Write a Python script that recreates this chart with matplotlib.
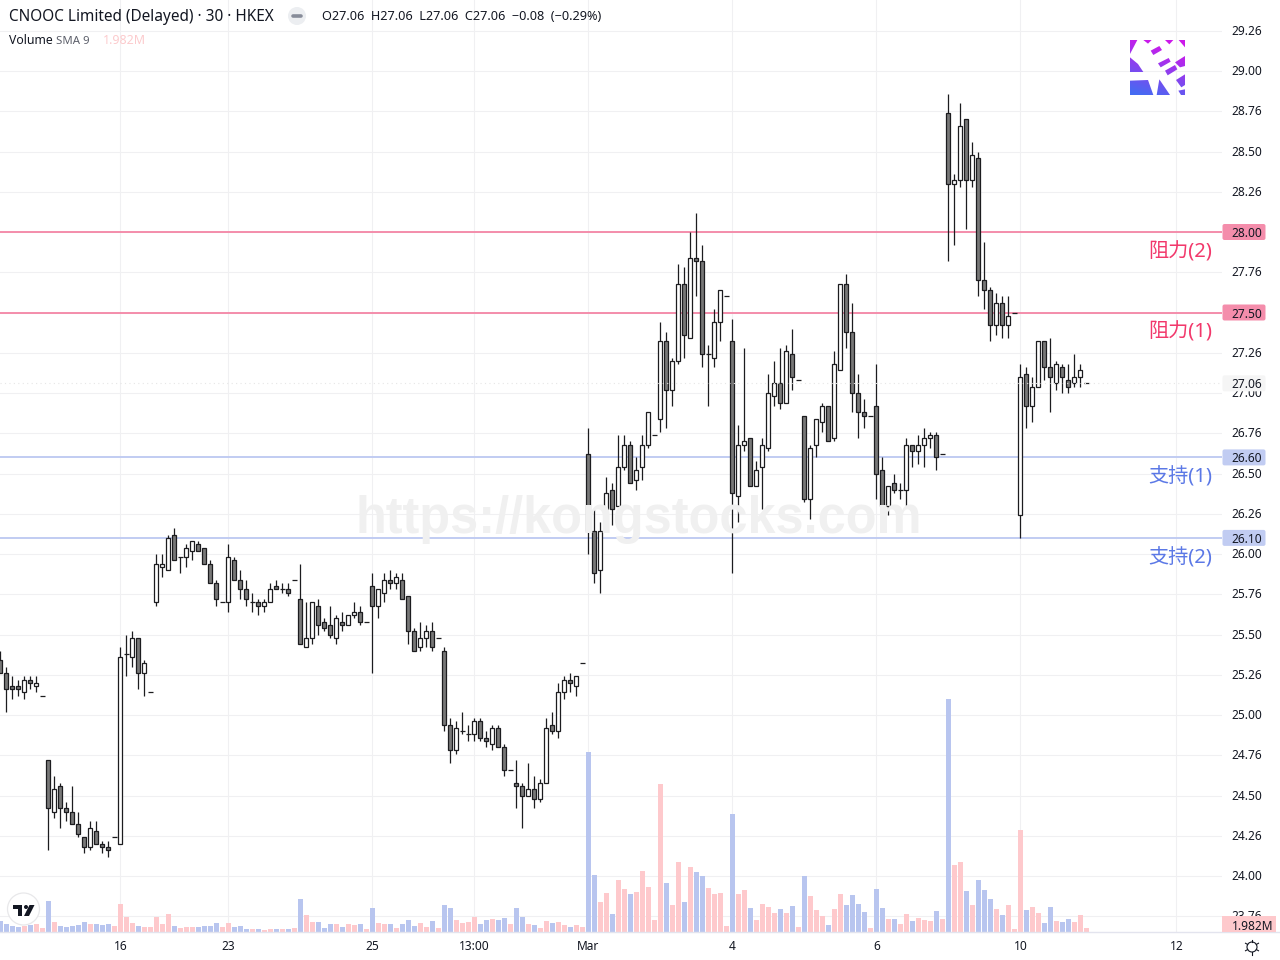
import numpy as np
import matplotlib
matplotlib.use("Agg")
import matplotlib.pyplot as plt
from matplotlib.patches import Rectangle, Circle, Polygon, FancyBboxPatch, PathPatch
from matplotlib.path import Path
from matplotlib.transforms import ScaledTranslation

# ---------- data ----------
opens = [25.34,25.26,25.18,25.18,25.14,25.22,25.18,25.12,24.72,24.40,
 24.56,24.42,24.40,24.32,24.24,24.18,24.28,24.20,24.18,24.24,
 24.20,25.38,25.36,25.48,25.26,25.14,25.70,25.92,25.90,26.12,
 25.98,25.98,26.02,26.06,26.04,25.94,25.82,25.70,25.70,25.96,
 25.84,25.78,25.70,25.70,25.68,25.70,25.80,25.78,25.78,25.84,
 25.72,25.42,25.48,25.68,25.58,25.56,25.48,25.58,25.56,25.62,
 25.64,25.58,25.80,25.68,25.76,25.84,25.82,25.84,25.74,25.52,
 25.42,25.48,25.52,25.48,25.40,24.94,24.78,24.90,24.88,24.88,
 24.96,24.86,24.82,24.92,24.80,24.66,24.58,24.56,24.50,24.54,
 24.48,24.58,24.94,24.90,25.14,25.22,25.18,25.32,26.62,26.14,
 25.90,26.28,26.40,26.30,26.54,26.68,26.46,26.54,26.68,26.74,
 26.84,27.32,27.02,27.20,27.68,27.34,27.84,27.82,27.24,27.22,
 27.44,27.60,27.32,26.36,26.68,26.72,26.42,26.54,26.66,26.98,
 27.06,26.94,27.24,27.08,26.86,26.34,26.68,26.82,26.92,26.72,
 27.14,27.68,27.38,27.00,26.88,26.86,26.92,26.52,26.30,26.44,
 26.40,26.40,26.68,26.64,26.68,26.72,26.74,26.62,28.74,28.30,
 28.32,28.70,28.32,28.46,27.70,27.64,27.42,27.56,27.42,27.50,
 26.24,27.12,26.92,27.04,27.32,27.16,27.06,27.16,27.08,27.06,
 27.10,27.06]
highs = [25.40,25.30,25.24,25.22,25.24,25.24,25.24,25.12,24.72,24.62,
 24.58,24.46,24.56,24.40,24.24,24.34,24.34,24.22,24.22,24.24,
 25.42,25.50,25.52,25.48,25.34,25.14,26.00,26.00,26.12,26.16,
 25.98,26.06,26.08,26.08,26.04,25.96,25.84,25.70,26.06,25.98,
 25.90,25.84,25.76,25.72,25.72,25.82,25.84,25.82,25.82,25.84,
 25.94,25.70,25.70,25.72,25.60,25.68,25.62,25.64,25.62,25.70,
 25.68,25.58,25.88,25.78,25.88,25.90,25.88,25.88,25.74,25.54,
 25.58,25.56,25.58,25.48,25.42,24.98,24.96,25.02,24.94,24.98,
 24.98,24.90,24.94,24.94,24.82,24.66,24.72,24.58,24.70,24.62,
 24.60,24.98,25.02,25.20,25.24,25.26,25.24,25.32,26.78,26.28,
 26.20,26.48,26.44,26.74,26.74,26.70,26.60,26.74,26.88,26.74,
 27.44,27.38,27.22,27.80,27.78,28.00,28.12,27.92,27.30,27.52,
 27.64,27.60,27.46,26.80,27.28,26.72,26.58,26.72,27.12,27.20,
 27.28,27.30,27.40,27.08,26.86,26.68,26.84,26.94,26.92,27.26,
 27.68,27.74,27.56,27.12,26.96,26.86,27.18,26.60,26.42,26.50,
 26.44,26.72,26.68,26.74,26.78,26.76,26.76,26.62,28.86,28.36,
 28.80,28.70,28.56,28.50,27.94,27.66,27.62,27.60,27.60,27.50,
 27.18,27.16,27.10,27.32,27.32,27.34,27.20,27.18,27.18,27.24,
 27.18,27.06]
lows = [25.26,25.02,25.10,25.12,25.10,25.16,25.14,25.12,24.16,24.36,
 24.30,24.34,24.32,24.24,24.14,24.16,24.20,24.14,24.12,24.24,
 24.20,25.24,25.30,25.16,25.12,25.14,25.68,25.86,25.90,25.96,
 25.88,25.92,25.96,26.02,25.94,25.82,25.68,25.70,25.64,25.84,
 25.72,25.68,25.64,25.62,25.64,25.70,25.78,25.76,25.74,25.84,
 25.44,25.42,25.44,25.50,25.52,25.48,25.44,25.52,25.56,25.60,
 25.56,25.58,25.26,25.60,25.70,25.78,25.78,25.72,25.44,25.40,
 25.40,25.42,25.40,25.48,24.90,24.70,24.76,24.88,24.84,24.84,
 24.84,24.80,24.78,24.80,24.62,24.66,24.42,24.30,24.50,24.42,
 24.46,24.58,24.88,24.86,25.10,25.14,25.12,25.32,26.00,25.82,
 25.76,26.14,26.18,26.30,26.52,26.44,26.40,26.46,26.66,26.74,
 26.76,26.78,26.92,27.18,27.22,27.34,27.60,27.16,26.92,27.16,
 27.32,27.60,25.88,26.20,26.64,26.42,26.42,26.28,26.64,26.92,
 26.90,26.94,27.02,27.08,26.32,26.22,26.60,26.76,26.70,26.70,
 27.14,27.28,26.88,26.72,26.78,26.86,26.34,26.26,26.24,26.38,
 26.34,26.30,26.54,26.56,26.54,26.66,26.52,26.62,27.82,27.92,
 28.28,28.02,28.28,27.60,27.52,27.32,27.36,27.34,27.34,27.50,
 26.10,26.78,26.82,27.04,27.08,26.88,27.02,27.00,27.00,27.04,
 27.04,27.06]
closes = [25.26,25.16,25.16,25.16,25.22,25.20,25.20,25.12,24.42,24.54,
 24.42,24.40,24.32,24.26,24.18,24.30,24.20,24.18,24.16,24.24,
 25.36,25.38,25.48,25.26,25.32,25.14,25.94,25.94,26.10,25.96,
 25.98,26.04,26.08,26.02,25.94,25.82,25.72,25.70,25.98,25.84,
 25.78,25.72,25.70,25.68,25.70,25.78,25.78,25.78,25.76,25.84,
 25.44,25.48,25.70,25.56,25.54,25.50,25.60,25.56,25.62,25.64,
 25.58,25.58,25.68,25.78,25.84,25.82,25.86,25.72,25.52,25.40,
 25.48,25.52,25.42,25.48,24.94,24.78,24.92,24.90,24.88,24.96,
 24.86,24.84,24.92,24.80,24.66,24.66,24.56,24.50,24.54,24.48,
 24.58,24.92,24.90,25.14,25.22,25.20,25.24,25.32,26.14,25.88,
 26.14,26.38,26.28,26.54,26.68,26.44,26.52,26.68,26.88,26.74,
 27.32,27.02,27.20,27.68,27.36,27.84,27.82,27.24,27.24,27.44,
 27.64,27.60,26.38,26.68,26.70,26.42,26.52,26.68,27.00,27.06,
 26.94,27.26,27.10,27.08,26.34,26.66,26.84,26.92,26.70,27.18,
 27.68,27.38,27.00,26.88,26.86,26.86,26.50,26.30,26.42,26.40,
 26.40,26.68,26.64,26.68,26.72,26.74,26.60,26.62,28.30,28.32,
 28.66,28.32,28.48,27.70,27.64,27.42,27.56,27.42,27.48,27.50,
 27.10,26.92,27.04,27.32,27.16,27.10,27.18,27.10,27.04,27.10,
 27.14,27.06]
volumes_m = [5.5,4,3,2.5,3,3.5,4,2,15.5,5,
 3,2.5,3,3.5,5,4,4,3.5,4,3,
 14,7.5,4.5,3,2.5,2.5,7.5,4,9,3,
 2,2.5,2.5,2.5,3,3,4.5,2.5,4.5,2.5,
 3,1.5,1.5,1.5,1,1.5,1.5,1.5,1.5,2,
 16.5,8.5,5,5,2,4,4,2.5,4,3.5,
 4,1.5,12,4.5,4,4,2,4,6,3,
 4.5,2.5,5.5,2,13.5,12,6,4.5,5,7.5,
 4,6,6.5,6,7,4,12,7.5,4,3.5,
 2,5.5,4.5,5,3.5,2.5,3.5,2.5,90,28.5,
 15,19.5,9,26,21.5,19,20,30.5,22.5,6,
 74,24.5,13.5,35,15,32.5,30,28,22,19,
 19.5,3,59,19,21,12,6,14,12.5,9.5,
 11.5,9.5,13,2.5,28,18,11,8,3.5,11.5,
 19,13.5,18.5,14,10,2,21.5,12,6.5,6.5,
 4,9,5.5,7,6,5.5,10.5,6.5,116.5,33.5,
 35,20.5,13.5,26,21,16.5,11.5,8.5,13.5,1.5,
 51,11,12.5,9.5,4.5,12.5,5.5,5,6.5,5,
 8.5,1.982]
assert len(opens) == len(highs) == len(lows) == len(closes) == len(volumes_m) == 182

resistance_levels = [28.00, 27.50]
resistance_labels = ["阻力(2)", "阻力(1)"]
support_levels = [26.60, 26.10]
support_labels = ["支持(1)", "支持(2)"]
last_price = 27.06

price_ticks = [29.25,29.0,28.75,28.5,28.25,28.0,27.75,27.5,27.25,27.0,26.75,26.5,
               26.25,26.0,25.75,25.5,25.25,25.0,24.75,24.5,24.25,24.0,23.75]
price_tick_labels = ["29.26","29.00","28.76","28.50","28.26","28.00","27.76","27.50","27.26",
                     "27.00","26.76","26.50","26.26","26.00","25.76","25.50","25.26","25.00",
                     "24.76","24.50","24.26","24.00","23.76"]
date_ticks = [20, 38, 62, 79, 98, 122, 146, 170, 196]
date_labels = ["16", "23", "25", "13:00", "Mar", "4", "6", "10", "12"]

# ---------- style ----------
FONT = "Noto Sans"
plt.rcParams["font.family"] = [FONT, "DejaVu Sans"]
CJK = ["Noto Sans CJK SC", "DejaVu Sans"]
INK = "#131722"; GRID = "#f0f0f2"
PINK_LINE = "#f48dab"; BLUE_LINE = "#c1ccf2"
PINK_TXT = "#f2386b"; BLUE_TXT = "#5b78e6"
W, H = 1280, 960
AX_R, AX_B = 1222, 932
PX_U = 161.0
Y_TOP = 28 + 232 / PX_U
Y_BOT = 28 - (AX_B - 232) / PX_U
SPACING = 6.0
XLIM = (-0.3 / SPACING, (AX_R - 0.3) / SPACING)
xs = np.arange(len(opens))
o, h, l, c = map(np.array, (opens, highs, lows, closes))
up = c >= o

fig = plt.figure(figsize=(W / 100, H / 100), dpi=100, facecolor="white")
rect = [0, 1 - AX_B / H, AX_R / W, AX_B / H]
ax_grid = fig.add_axes(rect, zorder=1)
ax_vol = fig.add_axes(rect, zorder=2)
ax = fig.add_axes(rect, zorder=3)
ov = fig.add_axes([0, 0, 1, 1], zorder=4)

# grid + axis labels
ax_grid.set_xlim(XLIM); ax_grid.set_ylim(Y_BOT, Y_TOP)
ax_grid.yaxis.tick_right()
ax_grid.set_yticks(price_ticks, price_tick_labels)
ax_grid.set_xticks(date_ticks, date_labels)
ax_grid.tick_params(length=0, labelsize=8.6, labelcolor=INK)
ax_grid.tick_params(axis="y", pad=6.6)
ax_grid.tick_params(axis="x", pad=6.0)
ax_grid.grid(True, color=GRID, lw=0.8)
for s in ax_grid.spines.values():
    s.set_visible(False)
up_shift = ScaledTranslation(0, 0.7 / 72, fig.dpi_scale_trans)
for lbl in ax_grid.get_yticklabels():
    lbl.set_transform(lbl.get_transform() + up_shift)

# volume
ax_vol.set_xlim(XLIM); ax_vol.set_ylim(0, AX_B / 2.0)
ax_vol.bar(xs, volumes_m, width=0.8, color=np.where(up, "#fec9cc", "#b8c5ef"), linewidth=0)
ax_vol.axis("off")

# candles
ax.set_xlim(XLIM); ax.set_ylim(Y_BOT, Y_TOP)
ax.axis("off")
for lv in resistance_levels:
    ax.axhline(lv, color=PINK_LINE, lw=1.4, zorder=1)
for lv in support_levels:
    ax.axhline(lv, color=BLUE_LINE, lw=1.4, zorder=1)
wicks = ax.vlines(xs, l, h, color="#1c1c1f", lw=0.9, zorder=2)
wicks.set_snap(True)
body = o != c
ax.bar(xs[body], np.abs(c - o)[body], bottom=np.minimum(o, c)[body], width=0.7,
       color=np.where(up[body], "white", "#787878"), edgecolor="#1c1c1f", linewidth=0.9, zorder=3)
dash = ax.hlines(o[~body], xs[~body] - 0.42, xs[~body] + 0.42, color="#1c1c1f", lw=0.9, zorder=3)
dash.set_snap(True)
ax.axhline(last_price, color="#e6e6e6", lw=0.8, ls=(0, (1, 3)), zorder=4)

# ---------- overlay in pixel coordinates ----------
ov.set_xlim(0, W); ov.set_ylim(H, 0); ov.axis("off"); ov.patch.set_alpha(0)

def py(price):
    return 232 + (28 - price) * PX_U

# bottom line
ov.plot([0, W], [AX_B, AX_B], color="#e3e4ee", lw=1.0)

# price boxes
def price_box(price, face, txt, x1=1266):
    yc = py(price)
    ov.add_patch(FancyBboxPatch((1223, yc - 7.5), x1 - 1224, 15, boxstyle="round,pad=0.5,rounding_size=2",
                                fc=face, ec="none", zorder=5))
    ov.text(1231.5, yc, txt, color=INK, fontsize=8.6, va="center_baseline", ha="left", zorder=6)

for lv in resistance_levels:
    price_box(lv, PINK_LINE, f"{lv:.2f}")
for lv in support_levels:
    price_box(lv, BLUE_LINE, f"{lv:.2f}")
price_box(last_price, "#f5f5f5", f"{last_price:.2f}")
ov.add_patch(Rectangle((1222, 916), 54, 16, fc="#fec9cc", ec="none", zorder=5))
ov.text(1231.5, 924.5, "1.982M", color=INK, fontsize=8.6, va="center_baseline", ha="left", zorder=6)

# level annotations
LABEL_FONT = [FONT, "Noto Sans CJK SC", "DejaVu Sans"]
for lv, t in zip(resistance_levels, resistance_labels):
    ov.text(1212, py(lv) + 20, t, color=PINK_TXT, fontsize=14.5, family=LABEL_FONT, ha="right", va="center")
for lv, t in zip(support_levels, support_labels):
    ov.text(1212, py(lv) + 20, t, color=BLUE_TXT, fontsize=14.5, family=LABEL_FONT, ha="right", va="center")

# watermark
ov.text(639, 519, "https://kongstocks.com", family="Liberation Sans", weight="bold",
        fontsize=36.4, color="#f0f0f0", ha="center", va="center", zorder=4.5)

# header
ov.text(9, 17, "CNOOC Limited (Delayed) · 30 · HKEX", fontsize=11.05, color=INK, va="center")
ov.add_patch(Circle((297, 16), 9, fc="#eceef1", ec="none"))
ov.plot([293, 301], [16, 16], color="#878c99", lw=2.6, solid_capstyle="round")
ov.text(322, 17, "O27.06  H27.06  L27.06  C27.06  −0.08  (−0.29%)", fontsize=9.15, color=INK, va="center")
ov.text(9, 41, "Volume", fontsize=8.8, color=INK, va="center")
ov.text(56, 41, "SMA 9", fontsize=8.2, color="#5d606b", va="center")
ov.text(103, 41, "1.982M", fontsize=9.0, color="#fccbcd", va="center")

# site logo: a gradient seen through the gaps of a white glyph
g = np.linspace(0, 1, 64)
gx, gy = np.meshgrid(g, g)
t = np.clip(gx * 0.30 + (1 - gy) * 0.95 - 0.05, 0, 1)
c_a = np.array([0.27, 0.42, 0.95]); c_b = np.array([0.80, 0.10, 0.92])
grad = c_a[None, None, :] * (1 - t[..., None]) + c_b[None, None, :] * t[..., None]
im = ov.imshow(grad, extent=(1130, 1185, 95, 40), aspect="auto", zorder=2, interpolation="bilinear")
ov.set_xlim(0, W); ov.set_ylim(H, 0)
gaps = [[(30, 30), (52, 30), (30, 72)], [(70, 30), (95, 30), (84, 41)], [(135, 30), (160, 30), (148, 43)],
        [(176, 30), (195, 30), (195, 52)], [(92, 62), (118, 48), (126, 60), (100, 75)],
        [(114, 100), (146, 84), (152, 95), (122, 112)], [(135, 122), (165, 105), (172, 118), (143, 136)],
        [(165, 97), (195, 78), (195, 108), (180, 112)], [(168, 150), (195, 133), (195, 165), (184, 172)],
        [(30, 82), (54, 102), (70, 126), (30, 126)], [(30, 152), (84, 150), (100, 195), (30, 195)],
        [(118, 148), (150, 195), (110, 195)], [(175, 182), (195, 178), (195, 195), (183, 195)]]
verts = []; codes = []
for poly in gaps:
    pts = [(1120 + x / 3, 30 + y / 3) for x, y in poly]
    verts += pts + [pts[0]]
    codes += [Path.MOVETO] + [Path.LINETO] * (len(pts) - 1) + [Path.CLOSEPOLY]
im.set_clip_path(Path(verts, codes), transform=ov.transData)

# TradingView badge
ov.add_patch(Circle((23.5, 909), 16, fc="white", ec="#e8e8ea", lw=0.9, zorder=5))
ov.add_patch(Polygon([(13, 905), (22, 905), (22, 916), (17.5, 916), (17.5, 909), (13, 909)], fc=INK, ec="none", zorder=6))
ov.add_patch(Circle((26, 907), 2, fc=INK, ec="none", zorder=6))
ov.add_patch(Polygon([(29.5, 905), (34.5, 905), (29, 916), (24, 916)], fc=INK, ec="none", zorder=6))

# settings icon
ov.add_patch(Circle((1252, 947), 5, fc="none", ec=INK, lw=0.8))
for a in np.deg2rad([90, 210, 330, 30, 150, 270]):
    ov.plot([1252 + 5 * np.cos(a), 1252 + 7.5 * np.cos(a)], [947 + 5 * np.sin(a), 947 + 7.5 * np.sin(a)], color=INK, lw=0.8)

fig.savefig("out.png", dpi=100)
